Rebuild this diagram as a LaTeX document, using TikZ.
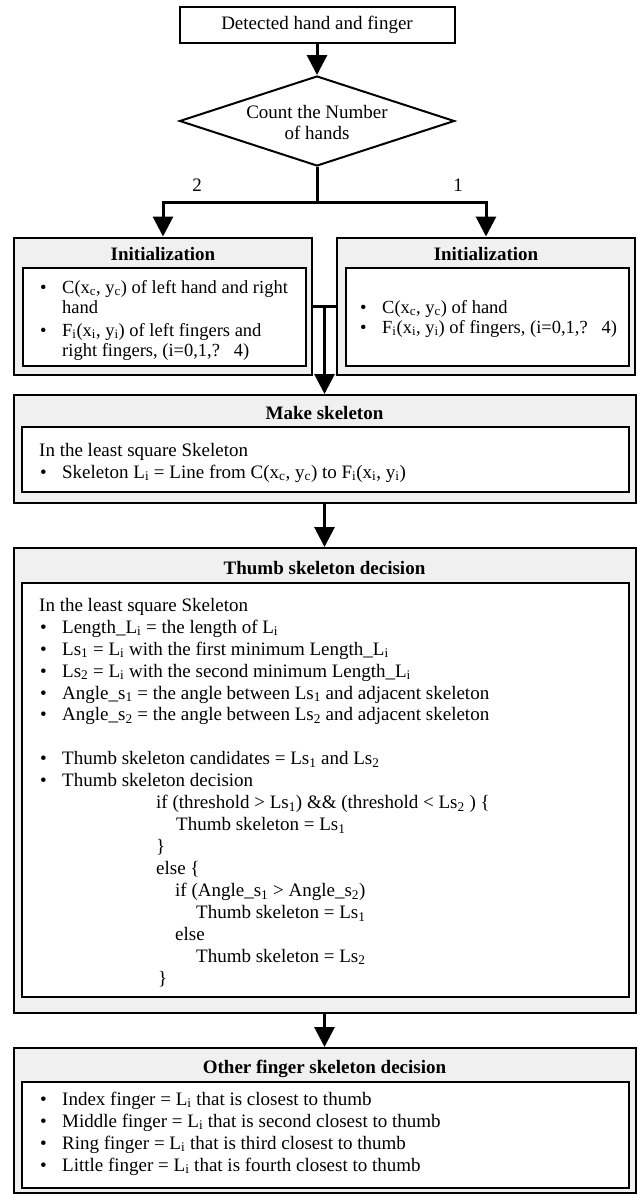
\documentclass[tikz,border=0pt]{standalone}
\usepackage{fontspec}
\setmainfont{Liberation Serif}
\usetikzlibrary{arrows.meta,shapes.geometric}
\definecolor{boxgray}{RGB}{240,240,240}
\newcommand{\bul}{\makebox[22pt][l]{\textbullet}}
\newcommand{\sbs}[1]{\textsubscript{#1}}
\tikzset{
  outerbox/.style={draw=black, line width=2pt, fill=boxgray, rectangle, inner sep=0pt},
  innerbox/.style={draw=black, line width=2.6pt, fill=white, rectangle, inner sep=0pt},
  txt/.style={inner sep=0pt, font=\fontsize{19}{22}\selectfont},
  tight/.style={inner sep=0pt, align=left, font=\fontsize{18.5}{20}\selectfont},
  hdr/.style={inner sep=0pt, font=\fontsize{19}{22}\selectfont\bfseries, anchor=base},
  wire/.style={draw=black, line width=3pt},
  conn/.style={wire, -{Triangle[width=20pt,length=20pt]}},
}
\begin{document}
\begin{tikzpicture}[x=1pt,y=-1pt]
\useasboundingbox (0,0) rectangle (637,1194);

% top box and decision
\node[draw=black, line width=2pt, rectangle, minimum width=275pt, minimum height=36pt, inner sep=0pt,
      font=\fontsize{19}{22}\selectfont] (top) at (317,25) {Detected hand and finger};
\node[draw=black, line width=2pt, diamond, minimum width=275pt, minimum height=90pt, inner sep=0pt] (dia) at (317,121) {};
\node[txt, align=center, font=\fontsize{19}{21}\selectfont] (diatxt) at (317,122) {Count the Number\\of hands};

% outer boxes
\node[outerbox, minimum width=298pt, minimum height=137pt] (linit) at (163,306) {};
\node[outerbox, minimum width=298pt, minimum height=137pt] (rinit) at (486,306) {};
\node[outerbox, minimum width=622pt, minimum height=108pt] (ms) at (324.5,449) {};
\node[outerbox, minimum width=622pt, minimum height=465pt] (thumb) at (324.5,780.5) {};
\node[outerbox, minimum width=622pt, minimum height=145pt] (other) at (324.5,1120.5) {};

% inner boxes
\node[innerbox, minimum width=283pt, minimum height=98pt] (linin) at (164.5,317) {};
\node[innerbox, minimum width=283pt, minimum height=98pt] (rinin) at (487.5,317) {};
\node[innerbox, minimum width=607pt, minimum height=65pt] (msin) at (325.5,459.5) {};
\node[innerbox, minimum width=607pt, minimum height=414pt] (thin) at (325.5,790) {};
\node[innerbox, minimum width=607pt, minimum height=106pt] (otin) at (325.5,1135) {};

% headers
\node[hdr] (lh) at (163,260) {Initialization};
\node[hdr] (rh) at (486,260) {Initialization};
\node[hdr] (mh) at (324.5,419) {Make skeleton};
\node[hdr] (th) at (324.5,574) {Thumb skeleton decision};
\node[hdr] (oh) at (324.5,1073) {Other finger skeleton decision};

% left init text (base anchor = last line's baseline)
\node[tight, anchor=base west] (l1) at (40,313) {\bul C(x\sbs{c}, y\sbs{c}) of left hand and right\\\hspace*{22pt}hand};
\node[tight, anchor=base west] (l3) at (40,356) {\bul F\sbs{i}(x\sbs{i}, y\sbs{i}) of left fingers and\\\hspace*{22pt}right fingers, (i=0,1,?\ \ \ 4)};

% right init text
\node[tight, anchor=base west] (r1) at (360,333) {\bul C(x\sbs{c}, y\sbs{c}) of hand\\\bul F\sbs{i}(x\sbs{i}, y\sbs{i}) of fingers, (i=0,1,?\ \ \ 4)};

% make skeleton text
\node[txt, anchor=base west] (m1) at (39,456) {In the least square Skeleton};
\node[txt, anchor=base west] (m2) at (40,478) {\bul Skeleton L\sbs{i} = Line from C(x\sbs{c}, y\sbs{c}) to F\sbs{i}(x\sbs{i}, y\sbs{i})};

% thumb text
\foreach \xx/\yy/\ttx [count=\i] in {
  39/611/{In the least square Skeleton},
  40/633/{\bul Length\_L\sbs{i} = the length of L\sbs{i}},
  40/655/{\bul Ls\sbs{1} = L\sbs{i} with the first minimum Length\_L\sbs{i}},
  40/677/{\bul Ls\sbs{2} = L\sbs{i} with the second minimum Length\_L\sbs{i}},
  40/699/{\bul Angle\_s\sbs{1} = the angle between Ls\sbs{1} and adjacent skeleton},
  40/720.7/{\bul Angle\_s\sbs{2} = the angle between Ls\sbs{2} and adjacent skeleton},
  40/764.6/{\bul Thumb skeleton candidates = Ls\sbs{1} and Ls\sbs{2}},
  40/786.5/{\bul Thumb skeleton decision},
  156/808.5/{if (threshold > Ls\sbs{1}) \&\& (threshold < Ls\sbs{2} ) \{},
  176/830.4/{Thumb skeleton = Ls\sbs{1}},
  156/852.3/{\}},
  156/874.3/{else \{},
  175/896.2/{if (Angle\_s\sbs{1} > Angle\_s\sbs{2})},
  196/918.2/{Thumb skeleton = Ls\sbs{1}},
  175/940.1/{else},
  196/962/{Thumb skeleton = Ls\sbs{2}},
  158/984/{\}}}
  \node[txt, anchor=base west] (t\i) at (\xx,\yy) {\ttx};

% other text
\node[txt, anchor=base west] (o1) at (40,1105) {\bul Index finger = L\sbs{i} that is closest to thumb};
\node[txt, anchor=base west] (o2) at (40,1127) {\bul Middle finger = L\sbs{i} that is second closest to thumb};
\node[txt, anchor=base west] (o3) at (40,1149) {\bul Ring finger = L\sbs{i} that is third closest to thumb};
\node[txt, anchor=base west] (o4) at (40,1171) {\bul Little finger = L\sbs{i} that is fourth closest to thumb};

% connectors
\coordinate (junc) at (317,202);
\draw[conn] (top.south) -- (dia.north);
\draw[wire] (dia.south) -- (junc);
\draw[conn] (junc) -| (linit.north);
\draw[conn] (junc) -| (rinit.north);
\node[txt, anchor=base] (lab2) at (197,191) {2};
\node[txt, anchor=base] (lab1) at (458,191) {1};
\draw[wire] (linit.east) -- (rinit.west);
\draw[conn] (linit.east -| ms.north) -- (ms.north);
\draw[conn] (ms.south) -- (thumb.north);
\draw[conn] (thumb.south) -- (other.north);
\end{tikzpicture}
\end{document}
